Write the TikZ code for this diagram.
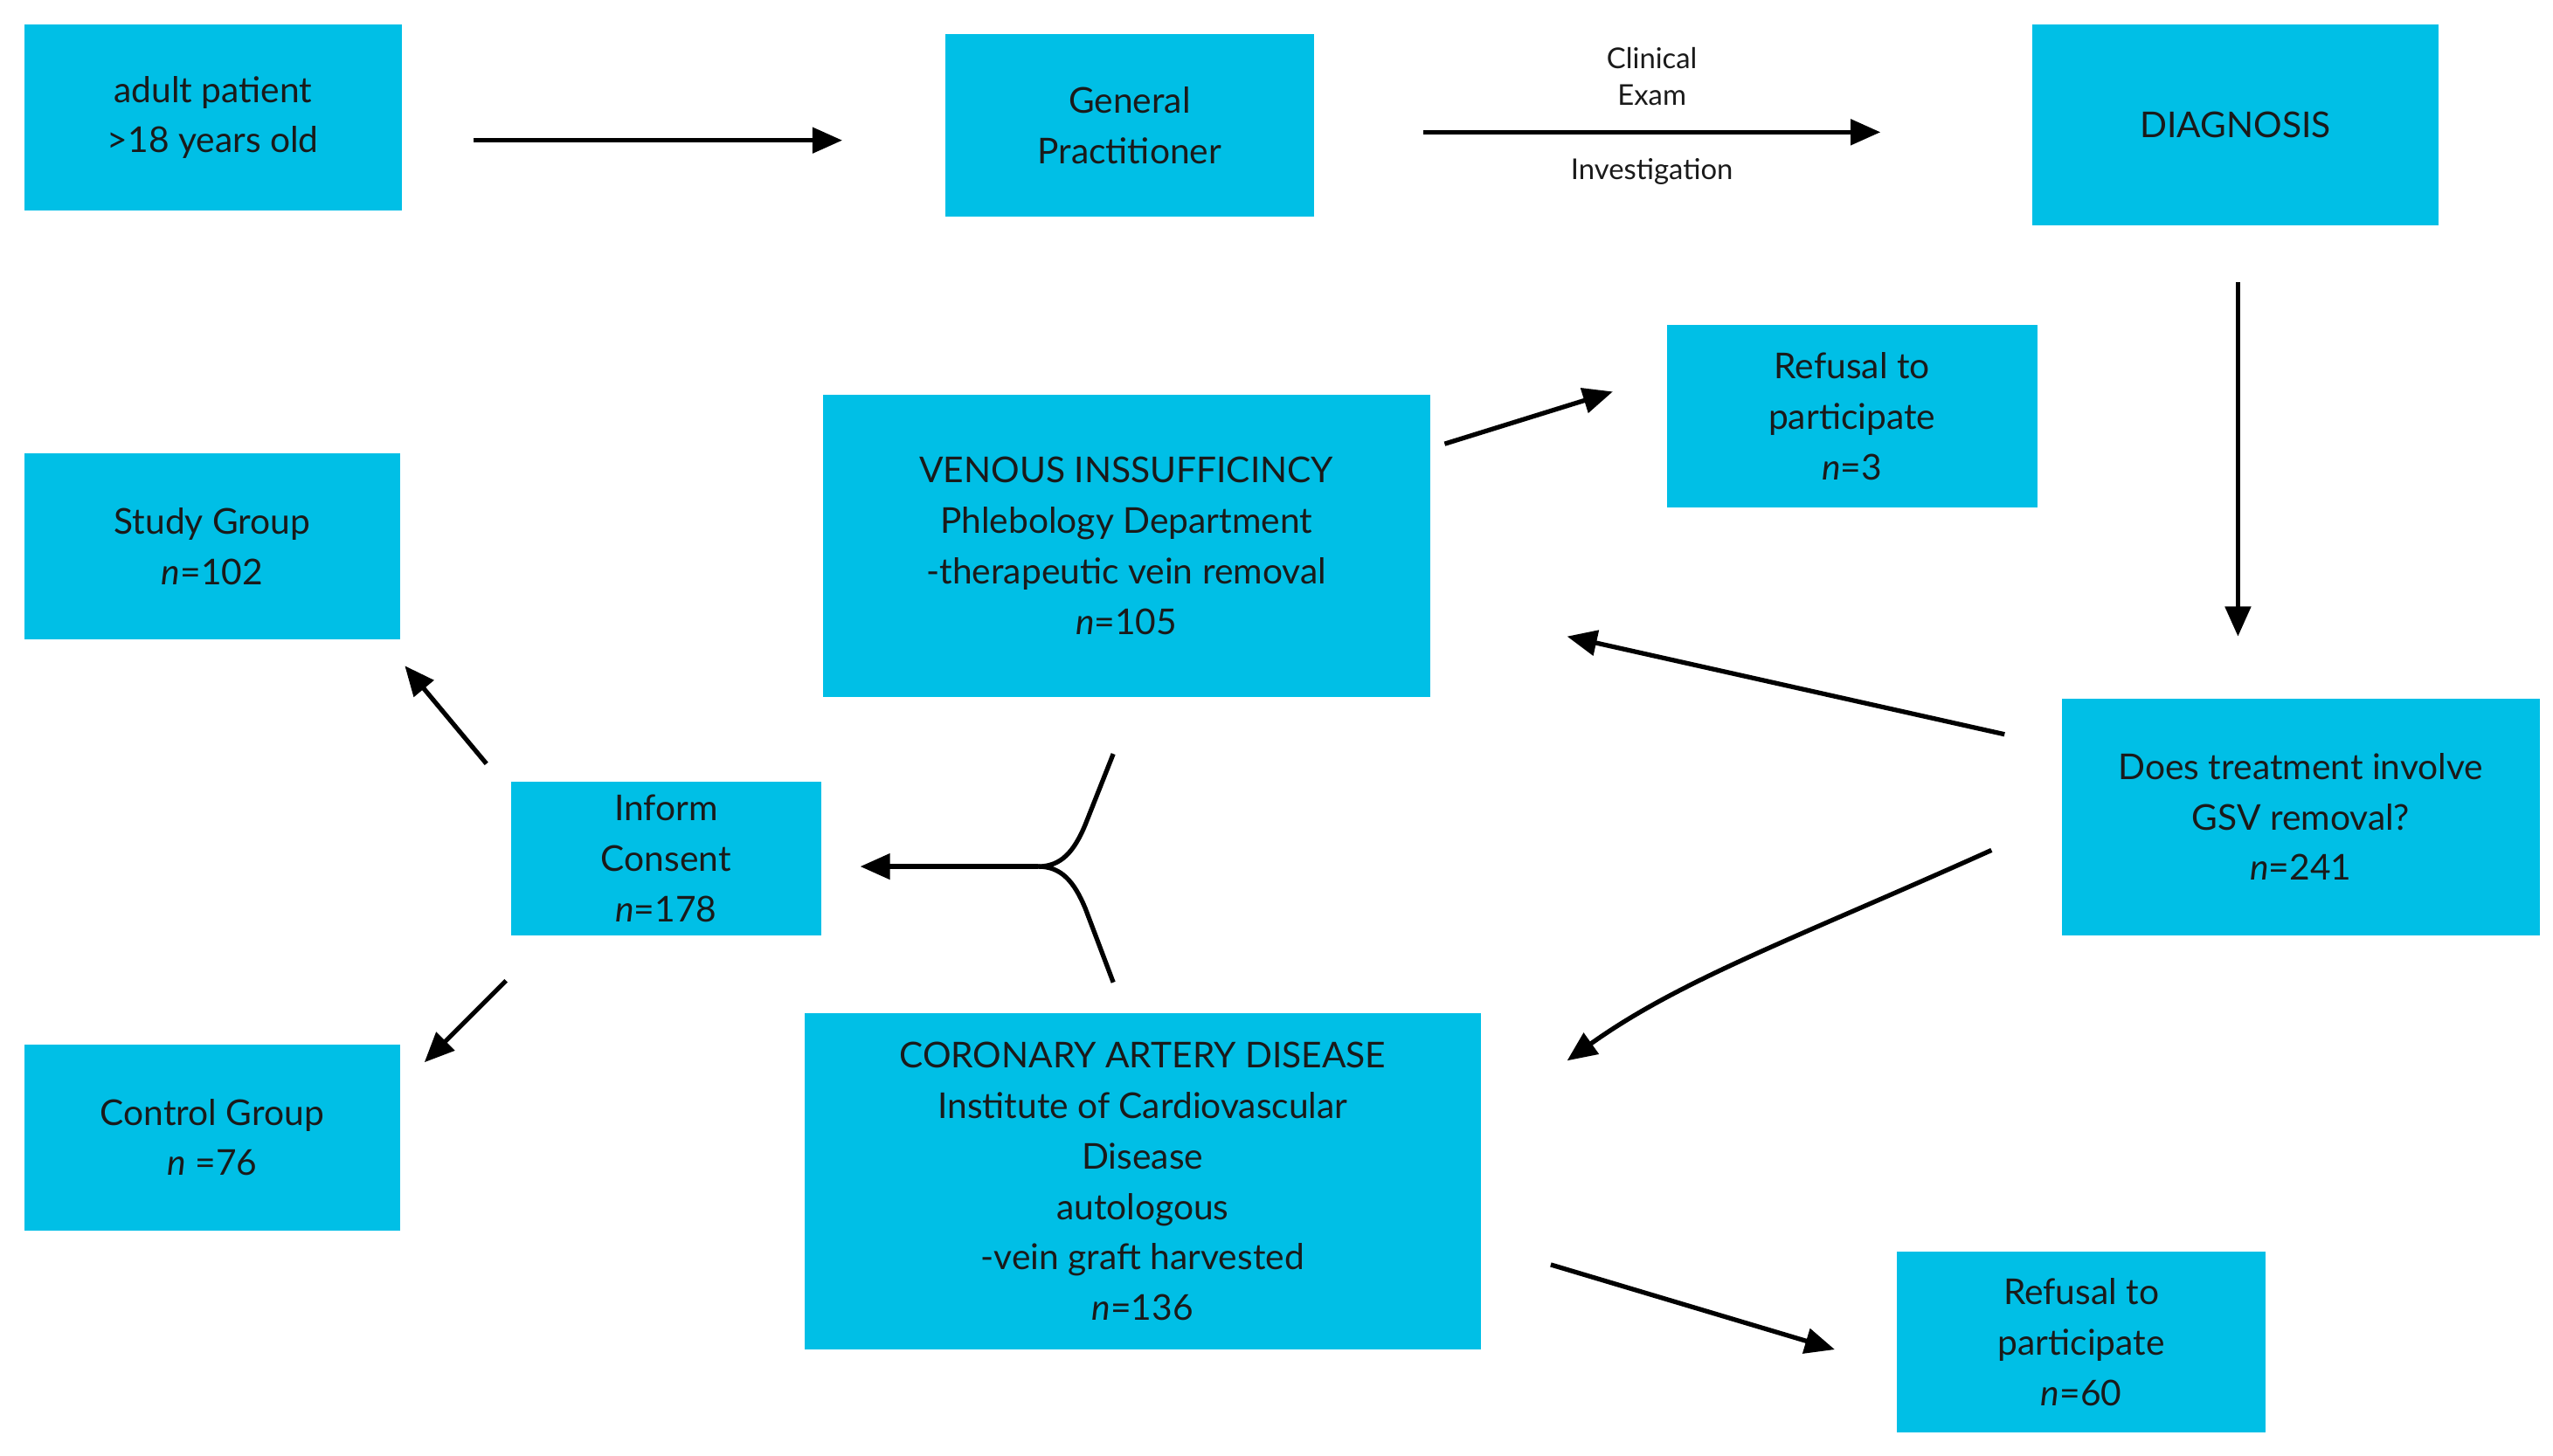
\documentclass[tikz,border=0pt]{standalone}
\usepackage{fontspec}
\setmainfont{Lato}
\usetikzlibrary{arrows.meta}
\definecolor{bx}{HTML}{00BFE6}
\definecolor{tx}{HTML}{1A1A1A}
\begin{document}
\begin{tikzpicture}[x=0.05cm,y=-0.05cm,
  box/.style={fill=bx,draw=none,text=tx,align=center,font=\fontsize{31}{44}\selectfont},
  ar/.style={line width=4pt,-{Triangle[length=26pt,width=22pt]}},
  lab/.style={font=\fontsize{25}{32}\selectfont,text=tx,align=center}]
\useasboundingbox (0,0) rectangle (1564,892);
\newcommand{\nn}{$\mathit{n}$}
\def\B#1#2#3#4#5#6{\path[fill=bx] (#2,#3) rectangle (#4,#5); \node[box] (#1) at ({(#2+#4)/2},{(#3+#5)/2}) {#6};}
\B{adult}{15}{15}{246}{129}{adult patient\\>18 years old}
\B{gp}{579}{21}{805}{133}{General\\Practitioner}
\B{diag}{1245}{15}{1494}{138}{DIAGNOSIS}
\B{ref1}{1021}{199}{1248}{311}{Refusal to\\participate\\\nn{}=3}
\B{ven}{504}{242}{876}{427}{VENOUS INSSUFFICINCY\\Phlebology Department\\-therapeutic vein removal\\\nn{}=105}
\B{study}{15}{278}{245}{392}{Study Group\\\nn{}=102}
\B{does}{1263}{428}{1556}{573}{Does treatment involve\\GSV removal?\\\nn{}=241}
\B{inf}{313}{479}{503}{573}{Inform\\Consent\\\nn{}=178}
\B{ctrl}{15}{640}{245}{754}{Control Group\\\nn{} =76}
\B{cad}{493}{621}{907}{827}{CORONARY ARTERY DISEASE\\Institute of Cardiovascular\\Disease\\autologous\\-vein graft harvested\\\nn{}=136}
\B{ref2}{1162}{767}{1388}{878}{Refusal to\\participate\\\nn{}=60}
\coordinate (a1) at (290,86); \coordinate (a2) at (516,86);
\draw[ar] (a1) -- (a2);
\coordinate (b1) at (872,81); \coordinate (b2) at (1152,81);
\draw[ar] (b1) -- (b2);
\node[lab] (ce) at (1012,47) {Clinical\\Exam};
\node[lab] (inv) at (1012,105) {Investigation};
\coordinate (c1) at (1371,173); \coordinate (c2) at (1371,390);
\draw[ar] (c1) -- (c2);
\coordinate (d1) at (1228,450); \coordinate (d2) at (960,390);
\draw[ar] (d1) -- (d2);
\coordinate (e1) at (1220,521); \coordinate (e2) at (960,650);
\draw[ar] (e1) .. controls (1100,575) and (1030,600) .. (e2);
\coordinate (f1) at (885,272); \coordinate (f2) at (988,240);
\draw[ar] (f1) -- (f2);
\coordinate (g1) at (950,775); \coordinate (g2) at (1124,827);
\draw[ar] (g1) -- (g2);
\coordinate (y1) at (682,462); \coordinate (y2) at (682,602); \coordinate (y0) at (636,531); \coordinate (y3) at (527,531);
\draw[line width=4pt] (y1) -- (665,505) .. controls (658,522) and (650,531) .. (y0);
\draw[line width=4pt] (y2) -- (665,557) .. controls (658,540) and (650,531) .. (y0);
\draw[ar] (y0) -- (y3);
\coordinate (h1) at (298,468); \coordinate (h2) at (248,408);
\draw[ar] (h1) -- (h2);
\coordinate (i1) at (310,601); \coordinate (i2) at (260,651);
\draw[ar] (i1) -- (i2);
\end{tikzpicture}
\end{document}
